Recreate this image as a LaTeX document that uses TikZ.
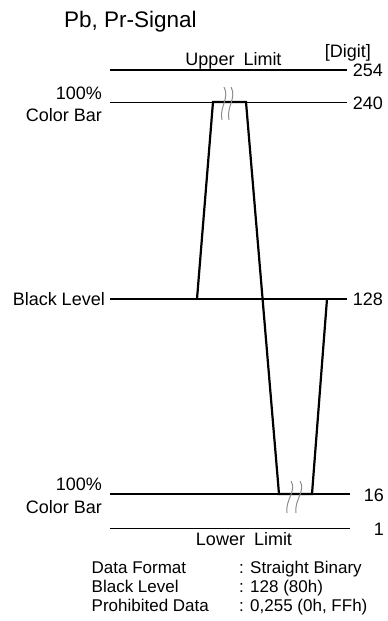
\documentclass[tikz,border=0pt]{standalone}
\usepackage{fontspec}
\setmainfont{Liberation Sans}
\begin{document}
\begin{tikzpicture}[x=1pt,y=-1pt,
  lbl/.style={inner sep=0pt, font=\fontsize{18}{21}\selectfont},
  datatxt/.style={inner sep=0pt, anchor=base west, font=\fontsize{17}{20}\selectfont},
  num/.style={lbl, anchor=east},
  levelline/.style={line width=1.2pt, black},
  wave/.style={line width=2.2pt, black, line join=miter},
  brk/.style={line width=1pt, black!45}]
\useasboundingbox (0,0) rectangle (388,621);
% titles
\node[inner sep=0pt, anchor=base west, font=\fontsize{22.5}{26}\selectfont] (title) at (64,27.5) {Pb, Pr-Signal};
\node[lbl, anchor=base east] (digit) at (371,57.5) {[Digit]};
\node[lbl, anchor=base] (upper) at (233.5,65) {Upper\hspace{0.5em}Limit};
\node[lbl, anchor=base] (lower) at (244,545) {Lower\hspace{0.5em}Limit};
% left labels
\node[lbl, anchor=base east] (pctA) at (102,99) {100\%};
\node[lbl, anchor=base east] (cbA) at (102,121) {Color Bar};
\node[lbl, anchor=base east] (black) at (105,305.5) {Black Level};
\node[lbl, anchor=base east] (pctB) at (102,490) {100\%};
\node[lbl, anchor=base east] (cbB) at (102,513) {Color Bar};
% right numbers
\node[num] (n254) at (383,70) {254};
\node[num] (n240) at (383,103) {240};
\node[num] (n128) at (383,299) {128};
\node[num] (n16) at (384,495) {16};
\node[num] (n1) at (384,529) {1};
% level line ends
\coordinate (l254a) at (110,70);   \coordinate (l254b) at (347,70);
\coordinate (l240a) at (110,102.5); \coordinate (l240b) at (347,102.5);
\coordinate (l128a) at (110,299);  \coordinate (l128b) at (347,299);
\coordinate (l16a) at (110,494);   \coordinate (l16b) at (350,494);
\coordinate (l1a) at (110,528.5);  \coordinate (l1b) at (350,528.5);
\draw[levelline] (l254a) -- (l254b);
\draw[levelline] (l240a) -- (l240b);
\draw[levelline] (l128a) -- (l128b);
\draw[levelline] (l16a) -- (l16b);
\draw[levelline] (l1a) -- (l1b);
% waveform
\coordinate (w0) at (197,299);
\coordinate (w1) at (213,102);
\coordinate (w2) at (246,102);
\coordinate (w3) at (279,494);
\coordinate (w4) at (312,494);
\coordinate (w5) at (327,299);
\draw[wave] (w0) -- (w1) -- (w2) -- (w3) -- (w4) -- (w5);
% break marks
\draw[brk] (224,87) .. controls (230,98) and (219,107) .. (222,120);
\draw[brk] (231,87) .. controls (237,98) and (226,107) .. (229,120);
\draw[brk] (291,481) .. controls (297,491) and (285,500) .. (287,513);
\draw[brk] (300,481) .. controls (306,491) and (294,500) .. (296,513);
% data block
\node[datatxt] (dfk) at (91.5,573) {Data Format};
\node[datatxt] (dfv) at (239,573) {: Straight Binary};
\node[datatxt] (blk) at (91.5,592) {Black Level};
\node[datatxt] (blv) at (239,592) {: 128 (80h)};
\node[datatxt] (pdk) at (91.5,611) {Prohibited Data};
\node[datatxt] (pdv) at (239,611) {: 0,255 (0h, FFh)};
\end{tikzpicture}
\end{document}
